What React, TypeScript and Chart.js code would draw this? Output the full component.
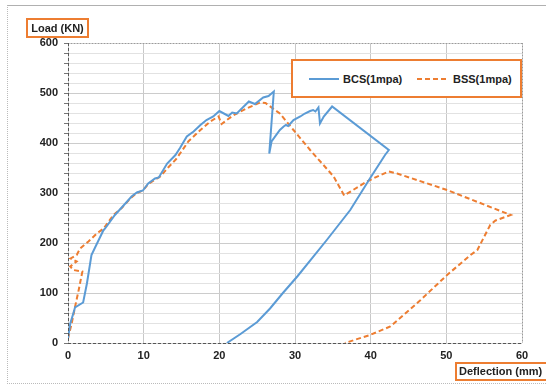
import React, { useEffect, useRef } from "react";
import { Chart, registerables } from "chart.js";

Chart.register(...registerables);

const seriesNames = ["BCS(1mpa)", "BSS(1mpa)"];
const xTickValues = [0, 10, 20, 30, 40, 50, 60];
const yTickValues = [0, 100, 200, 300, 400, 500, 600];
const yMinorStep = 20;

const bcsX = [0, 0.3, 0.7, 0.93, 2.0, 2.5, 3.1, 3.8, 4.7, 4.5, 4.9, 6.2, 7.1, 8.4, 9.1, 9.9, 10.6, 11.5, 12.0, 13.1, 14.2, 14.8, 15.7, 16.6, 17.5, 18.3, 19.2, 20.0, 21.2, 21.7, 22.3, 23.9, 24.7, 25.8, 26.5, 27.2, 26.6, 26.9, 28.0, 28.5, 28.8, 29.1, 29.8, 30.7, 31.3, 32.0, 32.4, 32.7, 33.1, 33.3, 33.8, 34.9, 42.4, 41.9, 39.9, 37.3, 34.2, 30.3, 28.4, 26.7, 25.0, 22.8, 21.0];
const bcsY = [10, 39, 59, 71, 81, 119, 176, 198, 226, 222, 229, 256, 271, 293, 301, 305, 319, 329, 331, 359, 376, 390, 413, 423, 436, 446, 453, 464, 454, 461, 459, 483, 478, 491, 494, 503, 379, 403, 426, 433, 436, 434, 446, 453, 459, 464, 466, 463, 471, 439, 453, 473, 386, 376, 329, 266, 206, 133, 100, 69, 42, 18, 0];

const bssX = [0, 0.5, 0.9, 1.4, 1.9, 0.7, 0.3, 1.15, 0.35, 1.15, 1.6, 2.7, 3.8, 4.7, 6.0, 7.1, 8.3, 9.1, 9.9, 10.6, 11.5, 12.2, 13.3, 14.3, 15.9, 17.5, 18.8, 19.9, 20.3, 21.0, 21.9, 23.6, 25.4, 26.1, 28.0, 29.8, 32.0, 35.1, 36.5, 39.5, 41.3, 42.4, 43.5, 50.1, 58.5, 56.5, 55.8, 54.1, 53.2, 50.1, 46.6, 42.6, 39.9, 36.6];
const bssY = [9, 40, 70, 105, 143, 146, 153, 163, 169, 176, 189, 203, 219, 229, 256, 270, 290, 300, 305, 318, 327, 333, 352, 368, 403, 426, 443, 453, 438, 446, 456, 469, 481, 480, 459, 426, 386, 333, 295, 323, 336, 343, 339, 306, 256, 245, 236, 186, 176, 136, 86, 33, 16, 0];

const BLUE = "#5B9BD5";
const ORANGE = "#ED7D31";

const frame = {
  id: "frame",
  beforeDatasetsDraw(chart: any) {
    const { ctx, chartArea: a, scales } = chart;
    const y = scales.y;
    ctx.save();
    ctx.lineWidth = 1;
    const top = yTickValues[yTickValues.length - 1];
    for (let v = yTickValues[0]; v <= top; v += yMinorStep) {
      const py = Math.round(y.getPixelForValue(v)) + 0.5;
      ctx.strokeStyle = v % 100 === 0 ? "#cccccc" : "#e2e2e2";
      ctx.beginPath();
      ctx.moveTo(a.left, py);
      ctx.lineTo(a.right, py);
      ctx.stroke();
      ctx.strokeStyle = "#777";
      ctx.beginPath();
      ctx.moveTo(a.left - 4, py);
      ctx.lineTo(a.left, py);
      ctx.stroke();
    }
    ctx.restore();
  },
  afterDatasetsDraw(chart: any) {
    const { ctx, chartArea: a } = chart;
    ctx.save();
    ctx.lineWidth = 1;
    ctx.strokeStyle = "#9a9a9a";
    ctx.setLineDash([1, 2]);
    ctx.beginPath();
    ctx.moveTo(a.left, a.top + 0.5);
    ctx.lineTo(a.right, a.top + 0.5);
    ctx.moveTo(a.right + 0.5, a.top);
    ctx.lineTo(a.right + 0.5, a.bottom);
    ctx.stroke();
    ctx.strokeStyle = "#555";
    ctx.setLineDash([3, 2]);
    ctx.beginPath();
    ctx.moveTo(a.left, a.bottom + 0.5);
    ctx.lineTo(a.right, a.bottom + 0.5);
    ctx.moveTo(a.left + 0.5, a.top);
    ctx.lineTo(a.left + 0.5, a.bottom);
    ctx.stroke();
    ctx.restore();
  },
};

export default function App() {
  const ref = useRef<HTMLCanvasElement>(null);
  useEffect(() => {
    const chart = new Chart(ref.current as HTMLCanvasElement, {
      type: "scatter",
      data: {
        datasets: [
          {
            label: seriesNames[0],
            data: bcsX.map((x, i) => ({ x, y: bcsY[i] })),
            showLine: true,
            borderColor: BLUE,
            backgroundColor: BLUE,
            borderWidth: 2,
            pointRadius: 0,
            tension: 0,
          },
          {
            label: seriesNames[1],
            data: bssX.map((x, i) => ({ x, y: bssY[i] })),
            showLine: true,
            borderColor: ORANGE,
            backgroundColor: ORANGE,
            borderWidth: 2,
            borderDash: [5, 3],
            pointRadius: 0,
            tension: 0,
          },
        ],
      },
      options: {
        animation: false,
        responsive: true,
        maintainAspectRatio: false,
        layout: { padding: { top: 43, right: 24, left: 0, bottom: 0 } },
        plugins: { legend: { display: false }, tooltip: { enabled: false } },
        scales: {
          x: {
            type: "linear",
            min: xTickValues[0],
            max: xTickValues[xTickValues.length - 1],
            afterFit: (s: any) => {
              s.height = 41;
            },
            afterBuildTicks: (s: any) => {
              s.ticks = xTickValues.map((v) => ({ value: v }));
            },
            ticks: {
              autoSkip: false,
              padding: 6,
              color: "#222",
              font: { family: "Liberation Sans", size: 11, weight: "bold" },
              maxRotation: 0,
            },
            grid: { color: "#c8c8c8", drawTicks: false },
            border: { display: false },
          },
          y: {
            min: yTickValues[0],
            max: yTickValues[yTickValues.length - 1],
            afterFit: (s: any) => {
              s.width = 68;
            },
            afterBuildTicks: (s: any) => {
              s.ticks = yTickValues.map((v) => ({ value: v }));
            },
            ticks: {
              autoSkip: false,
              padding: 10,
              color: "#222",
              font: { family: "Liberation Sans", size: 11, weight: "bold" },
            },
            grid: {
              display: false,
              drawTicks: false,
              tickLength: 4,
            },
            border: { display: false },
          },
        },
      },
      plugins: [frame],
    } as any);
    return () => chart.destroy();
  }, []);

  const labelFont: React.CSSProperties = {
    fontFamily: "Liberation Sans",
    fontWeight: "bold",
    fontSize: 11,
    color: "#222",
    whiteSpace: "nowrap",
  };

  return (
    <div style={{ position: "absolute", left: 0, top: 0, width: 546, height: 384, overflow: "hidden", background: "#fff" }}>
      <div style={{ position: "absolute", left: 7, top: 5, width: 560, height: 377, borderTop: "1px solid #b0b0b0", borderLeft: "1px dotted #bbb", borderBottom: "1px dotted #bbb" }} />
      <canvas ref={ref} style={{ position: "absolute", left: 0, top: 0 }} />
      <div style={{ ...labelFont, position: "absolute", left: 26, top: 18, width: 59, height: 16, border: "2px solid " + ORANGE, boxSizing: "content-box", textAlign: "center", lineHeight: "16px" }}>Load (KN)</div>
      <div style={{ ...labelFont, position: "absolute", left: 455, top: 362, width: 100, height: 15, border: "2px solid " + ORANGE, paddingLeft: 2, lineHeight: "15px" }}>Deflection (mm)</div>
      <div style={{ position: "absolute", left: 291, top: 59, width: 227, height: 35, border: "2px solid " + ORANGE, background: "#fff" }}>
        <svg width={30} height={4} style={{ position: "absolute", left: 16, top: 16 }}>
          <line x1={0} y1={2} x2={30} y2={2} stroke={BLUE} strokeWidth={2} />
        </svg>
        <div style={{ ...labelFont, position: "absolute", left: 50, top: 11, lineHeight: "14px" }}>{seriesNames[0]}</div>
        <svg width={32} height={4} style={{ position: "absolute", left: 124, top: 16 }}>
          <line x1={0} y1={2} x2={32} y2={2} stroke={ORANGE} strokeWidth={2} strokeDasharray="5,3" />
        </svg>
        <div style={{ ...labelFont, position: "absolute", left: 160, top: 11, lineHeight: "14px" }}>{seriesNames[1]}</div>
      </div>
    </div>
  );
}
